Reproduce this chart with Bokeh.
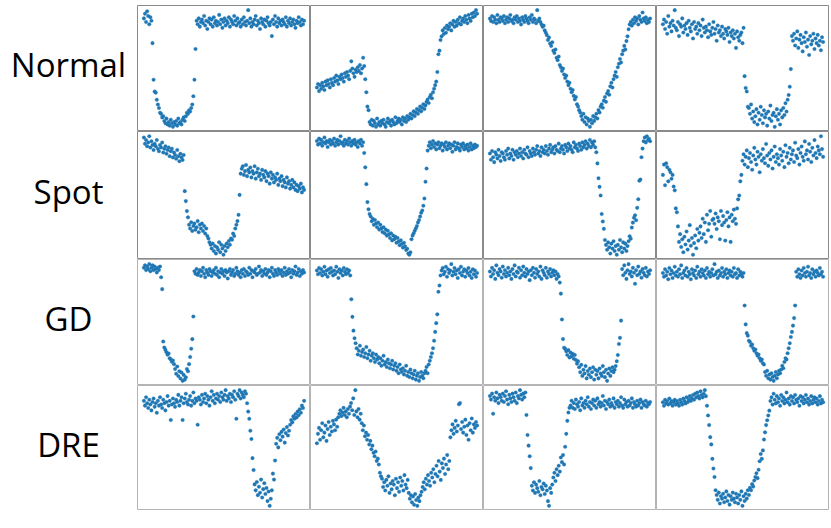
from bokeh.plotting import figure
from bokeh.layouts import gridplot, column
from bokeh.embed import file_html
from bokeh.resources import INLINE
from bokeh.core.properties import value
from bokeh.models import Range1d, DataRange1d, Spacer

row_labels = ["Normal", "Spot", "GD", "DRE"]

normal_1 = [93,97,90,99,95,88,94,91, 72,41,31,30,24,20,17,13, 12,9,10,
    6,4,8,3,5,2,7,4,1,5,3,6,2,8,4,5,3,7,9,6,
    10,13,12,15,14,17,20, 27,41,67,
    91,88,93,86,90,92,89,95,87,91,84,90,93,88,92,86,94,89,91,87,90,96,88,92,85,90,93,87,91,89,94,86,92,90,88,95,91,87,93,89,
    90,86,92,88,94,90,87,91,100,89,93,86,90,88,92,95,87,91,89,84,93,90,88,92,86,91,94,89,87,90,78,92,88,95,90,86,93,89,91,87,
    92,90,88,94,86,91,89,93,87,90,92,88,85,91,89,94,90,87,92,88,91]
normal_2 = [34,37,31,36,33,38,35,32,39,36,40,37,34,41,38,36,42,39,44,40,37,43,41,45,42,39,46,43,47,44,41,48,56,50,46,43,49,47,51,48,53,46,50,59,52,
    41,30,18,15,
    5,3,7,2,6,4,1,8,3,5,2,6,4,7,3,1,5,8,4,6,2,7,5,3,9,4,6,8,5,7,3,9,6,8,5,10,7,
    9,12,8,11,14,10,13,16,12,15,18,14,17,20,16,
    19,22,24,21,26,28,25,30,33,36,39, 47,62,65,74,
    77,82,79,84,80,86,83,85,88,82,87,90,85,89,86,91,88,93,87,90,92,89,94,91,88,95,92,90,96,93,97,94,99,96]
normal_3 = [91,89,93,88,92,90,87,94,90,88,92,91,89,93,87,90,92,88,91,94,89,90,87,92,90,93,88,91,89,86,92,90,88,93,91,89,87,92,90,94,88,91,90,87,98,89,91,
    88,86,84,85,81,79,
    77,73,75,70,68,71,64,62,65,58,56,59,52,50,47,49,44,41,43,38,35,37,32,29,31,26,23,25,19,17,14,12,
    9,6,11,4,8,2,7,5,0,6,3,9,5,8,11,7,
    14,12,17,19,16,22,25,21,28,30,27,34,37,33,40,43,46,42,50,53,57,54,61,64,68,65,72,76,
    82,86,88,85,90,87,92,89,91,86,93,90,88,96,91,89,92,87,90,88,91]
normal_4 = [88,92,84,90,80,95,86,89,82,91,87,100,85,83,90,78,88,86,93,81,
    87,84,89,79,91,85,82,88,76,90,84,86,80,89,83,87,78,92,85,81,
    86,83,77,88,82,79,85,90,80,84,74,87,81,83,78,86,80,76,84,82,
    79,85,73,81,78,83,76,80,68,82,77,74,79,81,72,85,
    44,34,31,18,
    17,12,20,8,14,5,10,16,3,13,7,18,11,4,15,9,12,2,14,8,19,6,11,13,1,10,16,7,12,3,15,9,17,11,21,14,
    24,28,35,50,
    78,74,80,70,76,82,68,75,79,72,65,77,73,81,69,75,62,78,71,74,80,67,76,72,79,70,74,66,77,73]

spot_1 = [95,90,93,88,91,96,87,92,89,85,90,88,93,86,84,89,87,91,83,86,
    88,82,85,87,80,84,86,79,83,81,78,85,80,76,82,79,77,81,
    52,44,36,31,
    25,22,27,20,24,26,21,23,28,19,25,22,26,20,24,18,22,16,
    14,11,
    9,6,10,4,8,2,7,5,11,3,9,6,1,8,4,10,7,12,9,14,
    13,18,16,22,25,28,33, 49,
    66,70,72,65,68,73,64,69,67,71,63,68,66,72,62,67,70,64,66,61,
    69,65,63,68,60,66,64,58,67,62,65,59,63,61,66,57,62,60,64,56,
    61,59,55,63,58,60,54,57,61,55,59,53,57,52,56,54,58,51,55,53]
spot_2 = [96,93,98,94,97,92,95,99,94,96,91,95,97,93,96,94,98,92,95,97,
    93,96,100,94,95,92,97,94,96,93,98,95,92,96,94,97,93,95,91,96,94,97,92,95,
    86,74,60,45,39,35,
    33,29,31,26,30,27,24,28,22,26,23,20,24,19,22,17,21,18,15,19,
    13,17,14,16,11,15,12,9,13,10,7,11,8,5,6,
    2,1,3,
    14,17,19,21,23,25,28,30,33,36,38,42,48, 62,73,
    88,92,95,90,93,96,91,94,89,93,95,90,92,94,88,93,91,95,89,92,
    94,90,93,87,92,95,89,91,94,90,88,93,91,94,89,92,90,93,88,91,94,89,92,90,93,91,92]
spot_3 = [84,79,86,81,77,85,83,80,87,82,78,85,84,81,79,86,83,88,80,84,
    82,87,79,85,83,86,81,84,88,82,85,80,87,84,83,89,81,86,84,82,
    88,85,83,87,90,84,86,82,89,85,87,84,90,86,83,88,91,85,87,89,
    84,90,87,86,92,85,88,90,87,84,91,89,86,92,88,90,87,85,93,89,
    91,88,86,92,90,87,93,89,91,94,88,92,90,95,89,93,91,94,
    89,85,76,64,57,50,35,29,
    23,14,10,6,12,8,3,11,7,13,5,9,2,10,6,14,8,4,12,7,11,5,9,
    13,17,15,24,28,32,34,30,40,47,62,63,81,88,
    94,97,93,98,95,96,94]
spot_4 = [64,72,56,73,70,59,68,66,61,64,55,52, 38,35,24,
    12,18,8,14,4,16,10,20,6,13,25,9,15,2,11,17,7,22,13,19,
    24,15,30,18,27,12,33,21,26,36,16,29,
    30,26,34,22,31,28,14,36,25,32,27,13,29,35,24,31,12,33,28,37,30,26,
    38,45,48,59,64,
    75,80,72,78,83,70,77,81,74,68,79,85,76,72,82,78,66,80,75,84,
    77,73,88,79,71,81,76,83,69,78,86,74,80,77,72,84,79,75,82,70,
    87,78,81,73,85,76,80,83,74,89,79,77,84,72,81,86,78,75,90,80,
    83,76,88,82,74,85,79,91,81,77,86,83,80,94,84,78]

gd_1 = [97,99,95,98,96,100,94,97,99,95,98,96,93,97,95,98, 89,79,
    35,30,28,26,24,25,21,20,18,19,16,
    12,8,14,6,10,4,9,2,7,3,5, 12,10,16, 22,29,37,56,
    94,92,96,91,93,95,90,94,97,92,89,95,93,91,96,94,90,93,95,92,
    97,91,94,89,93,96,92,94,90,95,93,88,94,96,91,93,95,90,92,97,
    94,91,93,89,95,92,96,90,94,93,91,97,92,95,89,94,93,96,91,92,
    98,93,95,90,94,92,96,91,93,95,89,94,97,92,90,95,93,91,96,94,
    92,95,90,93,97,91,94,92,96,93,89,95,92,94,98,91,93,96,90,94,92,95,93]
gd_2 = [94,91,96,92,95,90,93,97,91,94,89,95,92,96,93,90,94,91,97,93,88,95,92,94,90,96,93,91,95,92,94,90,
    71,57,46,40,36,
    32,27,30,34,26,29,31,25,28,33,24,27,30,22,26,28,24,21,27,23,
    25,20,24,18,22,26,19,21,17,23,20,16,19,22,15,18,20,14,17,12,
    19,15,13,16,11,14,18,10,13,9,15,12,8,11,14,7,10,12,6,9,13,10,8,12,
    14,17,12,19,22,25,28,32,38,45,52,59,77,82,
    90,94,96,91,93,97,89,95,92,94,99,90,93,96,91,94,88,95,92,97,
    90,93,95,89,94,92,96,90,93,88,95,91,94,89,92]
gd_3 = [90,86,93,88,91,84,95,89,87,92,90,85,94,88,91,86,89,93,87,90,
    84,92,88,95,86,90,89,93,85,91,87,94,89,86,92,88,90,83,91,87,
    93,89,85,92,88,90,86,94,84,91,89,87,93,85,90,88,92,86,89,91,87,90,84,88,86,
    81,72,51,35,28,
    27,25,22,26,20,24,21,23,19,22,18,15,17,
    12,8,14,5,10,7,13,3,9,6,11,4,8,12,2,10,6,9,3,11,7,5,13,8,4,10,1,7,11,5,9,12,8,10,
    13,17,22,31,36,50,
    92,87,95,89,84,91,96,88,90,86,93,89,80,91,87,94,88,90,85,92,89,87,93,86,90,88,91]
gd_4 = [88,85,91,86,89,83,92,87,90,84,88,93,86,89,85,91,87,94,84,88,
    90,86,92,85,89,87,83,91,88,86,90,84,93,87,89,85,91,88,86,90,
    84,92,87,89,85,88,91,86,95,87,89,84,90,86,88,92,85,89,87,91,
    84,88,90,86,89,85,92,87,88,84,91,86,89,87,85,88,
    62,47,40,
    38,34,33,30,31,28,26,27,24,22,23,20,18,19,16,15,
    9,6,10,4,7,3,8,5,2,6,9,4,7,10,8,
    11,14,12,17,20,19,24,28,32,37,41,46,52,62,
    89,85,91,87,84,90,86,92,88,85,89,93,86,88,84,91,87,89,85,90,88,86,92,87,89,85]

dre_1 = [88,84,91,86,82,89,85,80,87,90,83,86,78,88,84,91,85,82,89,86,
    80,87,92,84,88,72,85,90,86,83,89,87,93,84,88,91,72,86,90,94,
    87,85,89,92,84,88,95,86,90,88,68,91,89,85,93,87,90,94,86,92,
    89,84,91,96,88,93,86,90,94,89,92,87,95,91,89,93,97,88,92,90,
    94,87,93,91,96,89,73,94,92,97,90,95,93,91,96,94,
    86,79,73,63,56,40,30,
    18,13,20,9,16,11,22,7,14,19,10,15,4,12,0,6,13,
    27,22,38,
    52,57,49,60,55,62,58,64,53,61,66,59,63,
    68,72,70,75,73,77,74,79,76,81,78,84,82,88]
dre_2 = [55,63,68,58,66,72,60,64,70,57,67,73,62,69,65,74,71,66,75,69,
    77,80,83,78,81,85,79,82,77,84,80,86,89,83,93,79,100,82,77,84,75,80,
    72,66,70,61,64,58,62,54,57,50,53,47,44,48,40,42,37,30,27,
    25,18,22,15,24,19,27,13,21,16,23,20,11,25,17,22,14,26,19,23,15,28,20,17,24,
    13,8,11,5,10,3,12,7,2,9,6,11,14,
    18,22,16,25,20,28,23,19,30,26,33,22,29,36,27,40,31,24,38,34,42,29,37,45,33,40,
    60,66,71,63,68,74,65,70,88,89,67,73,64,69,75,62,70,58,72,66,76,64,71,68,73,70]
dre_3 = [94,91,96,79,93,90,97,92,88,95,93,90,96,89,94,98,91,87,95,92,
    89,96,93,90,97,88,94,92,99,95,91,96,93,97,
    78,61,52,43,33,
    18,14,21,12,19,16,13,22,10,17,15,20,11,18,14,5,1,16,12,19,
    25,29,22,32,27,35,30,42,38,44,36,51,62,73,80,84,
    86,90,84,88,83,91,87,85,89,82,92,86,88,84,90,87,93,85,89,83,
    88,91,86,90,84,92,87,89,85,88,94,86,90,83,89,87,91,85,88,86,
    92,84,89,87,90,85,88,93,86,84,91,87,89,85,90,86,88,92,84,89,
    87,85,90,86,88,91,84,89,87,86,90,85,88,87,89]
dre_4 = [87,84,89,86,88,85,90,86,88,84,87,89,85,88,86,84,89,87,85,90,
    88,86,91,87,89,92,88,90,93,89,94,91,95,92,90,96,93,91,94,97,92,
    84,76,68,58,52,40,32,
    25,14,10,6,12,3,9,7,11,4,8,13,5,10,2,9,6,12,7,4,
    11,8,3,10,6,13,1,9,5,11,7,14,10,16,
    14,19,17,22,25,28,24,31,38,44,40,47,56,62,68,72,76,80,
    88,91,85,94,89,86,92,87,90,84,93,88,91,86,89,95,87,90,85,92,
    88,91,86,93,89,87,90,84,92,88,91,86,89,93,87,90,85,88,92,86,
    89,91,87,90,85,88,92,86,89,87]

panels = [
    [normal_1, normal_2, normal_3, normal_4],
    [spot_1, spot_2, spot_3, spot_4],
    [gd_1, gd_2, gd_3, gd_4],
    [dre_1, dre_2, dre_3, dre_4],
]

LABEL_W = 137
PANEL_W = 173
ROW_H = [126, 128, 126, 125]
DOT = "#1f77b4"

def hide(p):
    p.xaxis.visible = False
    p.yaxis.visible = False
    p.xgrid.visible = False
    p.ygrid.visible = False
    p.background_fill_color = "white"
    p.border_fill_color = "white"

rows = []
for r, label in enumerate(row_labels):
    h = ROW_H[r]
    lf = figure(width=LABEL_W, height=h, x_range=Range1d(0, LABEL_W),
                y_range=Range1d(0, h), toolbar_location=None,
                output_backend="svg", min_border=0)
    hide(lf)
    lf.outline_line_color = None
    lf.text(x=[68], y=[h / 2 + 4], text=[label], text_font=value("Open Sans"),
            text_font_size="33px", text_align="center", text_baseline="middle",
            text_color="black")
    row_figs = [lf]
    for c in range(4):
        ys = panels[r][c]
        xs = list(range(len(ys)))
        p = figure(width=PANEL_W, height=h, toolbar_location=None,
                   output_backend="svg", min_border=0,
                   x_range=DataRange1d(range_padding=0.08),
                   y_range=DataRange1d(range_padding=0.08))
        hide(p)
        p.outline_line_color = "#8a8a8a" if r < 2 else "#b4b4b4"
        p.outline_line_width = 1
        p.scatter(xs, ys, size=3.6, fill_color=DOT, line_color=DOT, line_width=0.3)
        row_figs.append(p)
    rows.append(row_figs)

grid = gridplot(rows, toolbar_location=None)
layout = column(Spacer(width=829, height=5), grid)

open("out.html", "w").write(file_html(layout, INLINE))
